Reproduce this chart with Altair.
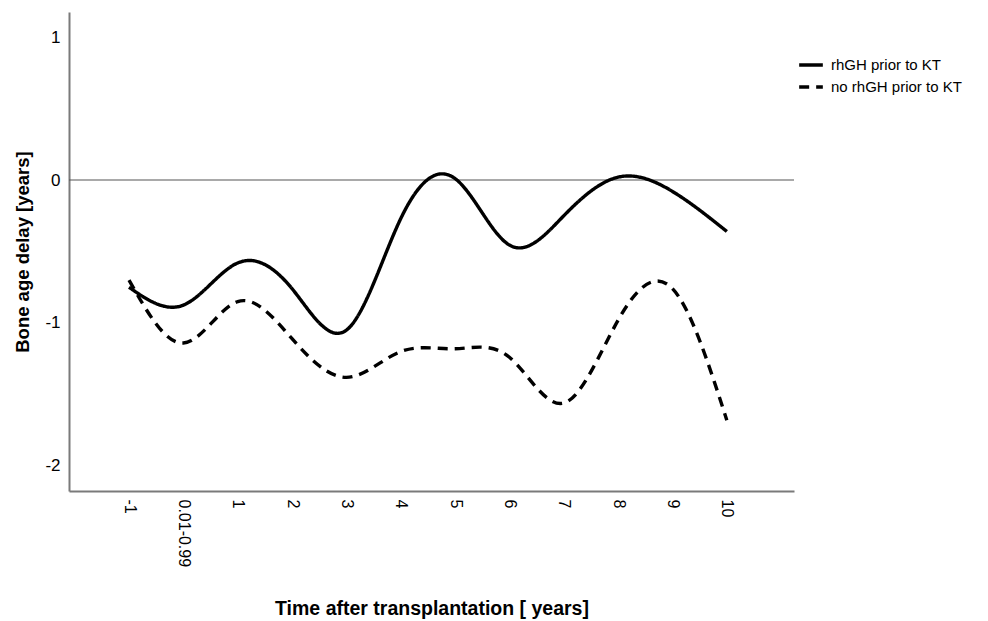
import altair as alt
import pandas as pd

categories = ["-1", "0.01-0.99", "1", "2", "3", "4", "5", "6", "7", "8", "9", "10"]
rhgh_values = [-0.75, -0.875, -0.58, -0.76, -1.05, -0.27, 0.01, -0.455, -0.25, 0.02, -0.08, -0.36]
no_rhgh_values = [-0.70, -1.14, -0.85, -1.11, -1.38, -1.20, -1.18, -1.24, -1.56, -0.98, -0.76, -1.68]
series_names = ["rhGH prior to KT", "no rhGH prior to KT"]
y_ticks = [-2, -1, 0, 1]

rows = []
for i, c in enumerate(categories):
    rows.append({"idx": i, "cat": c, "group": series_names[0], "value": rhgh_values[i]})
for i, c in enumerate(categories):
    rows.append({"idx": i, "cat": c, "group": series_names[1], "value": no_rhgh_values[i]})
df = pd.DataFrame(rows)

FONT = "Liberation Sans"
label_expr = "[" + ",".join('"%s"' % c for c in categories) + "][datum.value]"

x_scale = alt.Scale(domain=[-1.104, 12.236], nice=False, zero=False)
x_axis = alt.Axis(
    values=list(range(len(categories))),
    labelExpr=label_expr,
    labelAngle=90,
    labelAlign="left",
    labelBaseline="middle",
    labelPadding=8,
    labelFontSize=16,
    labelFont=FONT,
    labelColor="#000000",
    ticks=False,
    grid=False,
    domainColor="#7a7a7a",
    domainWidth=2,
    title="Time after transplantation [ years]",
    titleFont=FONT,
    titleFontSize=19.5,
    titleFontWeight="bold",
    titleColor="#000000",
    titleX=362.5,
    titleY=117,
    titleBaseline="middle",
    titleAlign="center",
    labelFlush=False,
    labelOverlap=False,
)

y_scale = alt.Scale(domain=[-2.175, 1.175], nice=False, zero=False)
y_axis = alt.Axis(
    values=y_ticks,
    labelExpr="'' + datum.value",
    ticks=False,
    grid=False,
    labelPadding=9,
    labelFontSize=17,
    labelFont=FONT,
    labelColor="#000000",
    domainColor="#7a7a7a",
    domainWidth=2,
    title="Bone age delay [years]",
    titleFont=FONT,
    titleFontSize=18.5,
    titleFontWeight="bold",
    titleColor="#000000",
    titleAngle=-90,
    titleX=-47,
    titleY=239.5,
    titleBaseline="middle",
    titleAlign="center",
)

lines = alt.Chart(df).mark_line(
    color="black", strokeWidth=3.4, interpolate="natural"
).encode(
    x=alt.X("idx:Q", scale=x_scale, axis=x_axis),
    y=alt.Y("value:Q", scale=y_scale, axis=y_axis),
    strokeDash=alt.StrokeDash(
        "group:N",
        scale=alt.Scale(domain=series_names, range=[[1, 0], [10, 7]]),
        legend=alt.Legend(
            title=None,
            orient="none",
            legendX=728,
            legendY=39,
            symbolType="stroke",
            symbolStrokeWidth=3.4,
            symbolStrokeColor="black",
            symbolSize=560,
            labelFont=FONT,
            labelFontSize=15,
            labelColor="#000000",
            labelOffset=6,
            rowPadding=0,
            padding=0,
        ),
    ),
    detail="group:N",
)

zero_df = pd.DataFrame({"value": [0]})
zero_rule = alt.Chart(zero_df).mark_rule(color="#555555", strokeWidth=1.2).encode(
    y=alt.Y("value:Q", scale=y_scale, axis=y_axis)
)

chart = alt.layer(zero_rule, lines).properties(
    width=725,
    height=479,
    autosize=alt.AutoSizeParams(type="none"),
    padding={"left": 69, "top": 12, "right": 194, "bottom": 130},
).configure(background="white").configure_view(stroke=None)

chart.save("out.html", embed_options={"renderer": "svg", "actions": False})
